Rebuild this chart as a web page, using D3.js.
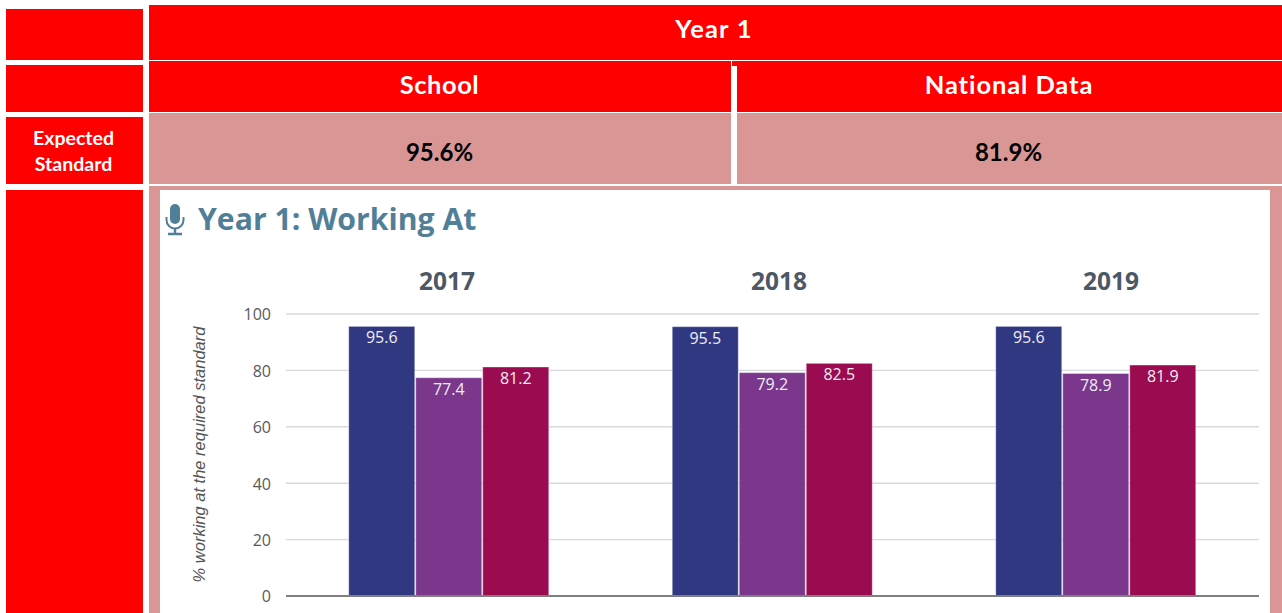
<!DOCTYPE html>
<html><head><meta charset="utf-8">
<script src="https://cdn.jsdelivr.net/npm/d3@7"></script>
<style>html,body{margin:0;padding:0;background:#fff;overflow:hidden}svg{display:block}</style>
</head><body><svg id="c" width="1282" height="613"></svg>
<script>
const years = ["2017", "2018", "2019"];
const seriesNames = ["School", "Comparison A", "National"];
const school = [95.6, 95.5, 95.6];
const middle = [77.4, 79.2, 78.9];
const national = [81.2, 82.5, 81.9];
const seriesColors = ["#303882", "#7a378c", "#9b0b4f"];
const yTicks = [0, 20, 40, 60, 80, 100];
const headerTitle = "Year 1";
const columnHeads = ["School", "National Data"];
const rowHead = ["Expected", "Standard"];
const headline = ["95.6%", "81.9%"];
const chartTitle = "Year 1: Working At";
const yTitle = "% working at the required standard";

const RED = "#ff0000", PINK = "#d99694";
const svg = d3.select("#c");
const cells = [
  [6,9,137,51,RED],[6,65,137,47,RED],[6,117,137,67,RED],[6,190,137,423,RED],
  [149,5,1133,55,RED],[149,61,582,51,RED],[732,61,550,5,RED],[737,66,545,46,RED],
  [149,113,582,71,PINK],[737,113,545,71,PINK],[149,186,1133,427,PINK],[160,190,1110,423,"#fff"]
];
svg.selectAll("rect.cell").data(cells).join("rect").attr("class","cell")
  .attr("x",d=>d[0]).attr("y",d=>d[1]).attr("width",d=>d[2]).attr("height",d=>d[3]).attr("fill",d=>d[4]);

const calibri = "Lato, Carlito, sans-serif";
function t(x,y,s,size,fill,weight,font,anchor,ls){
  return svg.append("text").attr("x",x).attr("y",y).text(s)
    .attr("font-family",font||calibri).attr("font-size",size).attr("fill",fill)
    .attr("font-weight",weight||400).attr("text-anchor",anchor||"middle")
    .style("font-variant-ligatures","none").style("letter-spacing",(ls||0)+"px");
}
t(714,38,headerTitle,25.5,"#fff",700,null,null,1.2);
t(439.5,94,columnHeads[0],25.5,"#fff",700,null,null,0.5);
t(1009,94,columnHeads[1],25.5,"#fff",700,null,null,0.9);
t(73.5,145,rowHead[0],19.5,"#fff",700);
t(73.5,171,rowHead[1],19.5,"#fff",700);
t(439.5,161,headline[0],24,"#000",700);
t(1008.5,161,headline[1],24,"#000",700);

const openSans = "'Open Sans', sans-serif";
t(198,230,chartTitle,30.2,"#527f98",700,openSans,"start");

// microphone icon
const mic = svg.append("g").attr("transform","translate(175,219)").attr("fill","none").attr("stroke","#527f98");
mic.append("rect").attr("x",-5).attr("y",-15).attr("width",10).attr("height",20).attr("rx",5).attr("fill","#527f98").attr("stroke","none");
mic.append("path").attr("d","M-8.5,-2 V1 A8.5,8.5 0 0 0 8.5,1 V-2").attr("stroke-width",2);
mic.append("path").attr("d","M0,10 V14").attr("stroke-width",2.5);
mic.append("path").attr("d","M-7,15 H7").attr("stroke-width",2.5);

const x0 = d3.scaleBand().domain(years).range([287,1257.5]);
const yearTitleX = d3.scalePoint().domain(years).range([447,1111]);
const y = d3.scaleLinear().domain([0,100]).range([596,314]);
const x1 = d3.scaleBand().domain(seriesNames).range([-100.5,100.5]);
const rows = [school,middle,national];

const grid = svg.append("g");
grid.selectAll("line").data(yTicks.filter(v=>v>0)).join("line")
  .attr("x1",286).attr("x2",1259).attr("y1",d=>y(d)).attr("y2",d=>y(d))
  .attr("stroke","#d9dade").attr("stroke-width",1.4);

const axis = svg.append("g").attr("transform","translate(271,1)")
  .call(d3.axisLeft(y).tickValues(yTicks).tickSize(0).tickPadding(0));
axis.select(".domain").remove();
axis.selectAll("text").attr("font-family",openSans).attr("font-size",16).attr("fill","#595959").attr("dy","0.3em");

svg.selectAll("text.year").data(years).join("text").attr("class","year")
  .attr("x",d=>yearTitleX(d)).attr("y",290).text(d=>d)
  .attr("text-anchor","middle").attr("font-family",openSans).attr("font-size",24.5)
  .attr("font-weight",700).attr("fill","#4d5866");

rows.forEach((vals,si)=>{
  const g = svg.append("g");
  const name = seriesNames[si];
  const px = d => x0(years[d])+x0.bandwidth()/2+x1(name);
  g.selectAll("rect").data(vals).join("rect")
    .attr("x",(d,i)=>px(i)+0.5).attr("width",x1.bandwidth()-1)
    .attr("y",d=>y(d)).attr("height",d=>y(0)-y(d))
    .attr("fill",seriesColors[si]).attr("stroke","#fff").attr("stroke-opacity",.35).attr("stroke-width",1);
  g.selectAll("text").data(vals).join("text")
    .attr("x",(d,i)=>px(i)+x1.bandwidth()/2).attr("y",d=>y(d)+17).text(d=>d.toFixed(1))
    .attr("text-anchor","middle").attr("font-family",openSans).attr("font-size",16).attr("fill","#f0eef4");
});

svg.append("line").attr("x1",286).attr("x2",1259).attr("y1",y(0)).attr("y2",y(0))
  .attr("stroke","#7f7f7f").attr("stroke-width",2);

svg.append("text").attr("transform","translate(205,454.5) rotate(-90)").text(yTitle)
  .attr("text-anchor","middle").attr("font-family","'Liberation Sans', sans-serif").attr("font-style","italic")
  .attr("font-size",16.5).attr("fill","#555");
</script></body></html>
